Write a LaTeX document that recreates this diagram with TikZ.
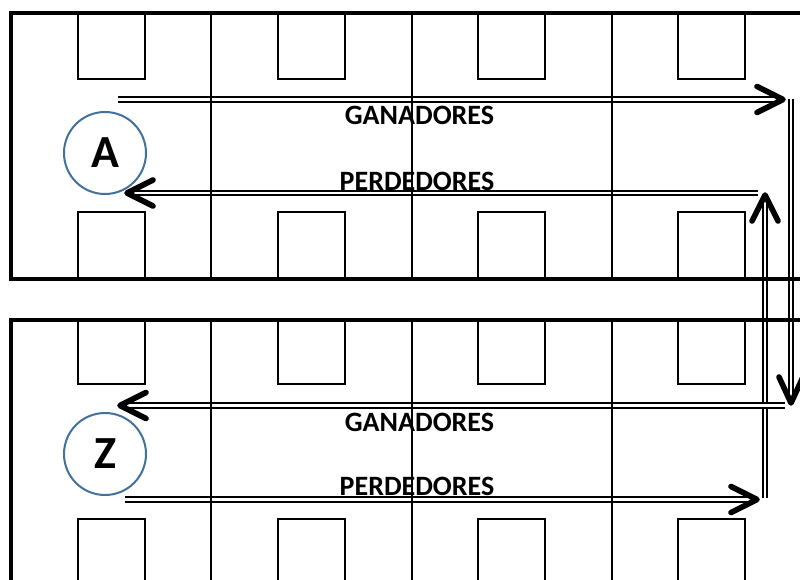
\documentclass[tikz,border=0pt]{standalone}
\usepackage{fontspec}
\setmainfont{Carlito}
\definecolor{circblue}{RGB}{65,113,156}
\begin{document}
\begin{tikzpicture}[x=1pt,y=-1pt,
  border/.style={line width=3.2pt},
  grid/.style={line width=1.3pt},
  room/.style={line width=2.8pt},
  dbl/.style={double, double distance=2.6pt, line width=1.9pt},
  head/.style={line width=5.6pt, line cap=round, line join=round},
  lab/.style={font=\fontsize{28}{28}\selectfont\bfseries, inner sep=0pt, anchor=base},
  circ/.style={circle, draw=circblue, line width=2pt, minimum size=82pt, inner sep=0pt, font=\fontsize{46}{46}\selectfont\bfseries}]
\useasboundingbox (0,0) rectangle (800,580);
\clip (0,0) rectangle (800,580);
% connector end points
\coordinate (g1s) at (118,99.5);  \coordinate (g1e) at (783,99.5);
\coordinate (v1s) at (791,99.5);  \coordinate (v1e) at (791,403);
\coordinate (g2s) at (785,405.5); \coordinate (g2e) at (120,405.5);
\coordinate (p2s) at (125,499.5); \coordinate (p2e) at (757,499.5);
\coordinate (v2s) at (765,498);   \coordinate (v2e) at (765,195);
\coordinate (p1s) at (758,193);   \coordinate (p1e) at (127,193);
% double connectors
\draw[dbl] (g1s) -- (g1e);
\draw[dbl] (p1s) -- (p1e);
\draw[dbl] (v1s) -- (v1e);
\draw[dbl] (v2s) -- (v2e);
\draw[dbl] (g2s) -- (g2e);
\draw[dbl] (p2s) -- (p2e);
% arrow heads
\draw[head] (g1e) ++(-26,-13) -- (g1e) -- ++(-26,13);
\draw[head] (p1e) ++(26,-13) -- (p1e) -- ++(26,13);
\draw[head] (v1e) ++(-12,-26) -- (v1e) -- ++(12,-26);
\draw[head] (v2e) ++(-13,26) -- (v2e) -- ++(13,26);
\draw[head] (g2e) ++(26,-13) -- (g2e) -- ++(26,13);
\draw[head] (p2e) ++(-26,-13) -- (p2e) -- ++(-26,13);
% grid lines
\foreach \x in {211,412,612}{
  \draw[grid] (\x,13) -- (\x,279);
  \draw[grid] (\x,320) -- (\x,590);
}
% rooms
\foreach \x in {78,278,478,678}{
  \draw[room] (\x,13) rectangle ++(67,66);
  \draw[room] (\x,212) rectangle (\x+67,279);
  \draw[room] (\x,320) rectangle ++(67,64);
  \draw[room] (\x,519) rectangle ++(67,80);
}
% block borders
\draw[border] (830,13) -- (11,13) -- (11,279) -- (830,279);
\draw[border] (830,320) -- (11,320) -- (11,600);
% circles
\node[circ] (A) at (105,153) {A};
\node[circ] (Z) at (105,454) {Z};
% labels
\node[lab] (gan1) at (419.5,125) {GANADORES};
\node[lab] (per1) at (417,190) {PERDEDORES};
\node[lab] (gan2) at (419.5,431) {GANADORES};
\node[lab] (per2) at (417,495) {PERDEDORES};
\end{tikzpicture}
\end{document}
